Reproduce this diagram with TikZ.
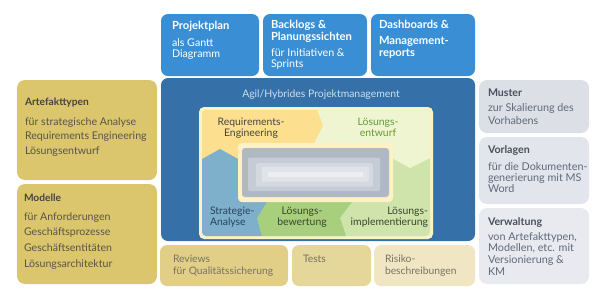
\documentclass[tikz,border=0pt]{standalone}
\usepackage{fontspec}
\setmainfont{Lato}
\definecolor{topblue}{RGB}{58,142,212}
\definecolor{mainblue}{RGB}{53,113,168}
\definecolor{titleblue}{RGB}{205,222,240}
\definecolor{olive}{RGB}{219,198,110}
\definecolor{revcol}{RGB}{225,207,135}
\definecolor{testcol}{RGB}{229,214,154}
\definecolor{riscol}{RGB}{240,230,196}
\definecolor{muscol}{RGB}{220,224,230}
\definecolor{vorcol}{RGB}{226,229,235}
\definecolor{vercol}{RGB}{232,234,239}
\definecolor{cream}{RGB}{253,241,197}
\definecolor{reqyel}{RGB}{253,224,143}
\definecolor{entgreen}{RGB}{238,245,208}
\definecolor{impgreen}{RGB}{207,228,170}
\definecolor{bewgreen}{RGB}{168,208,124}
\definecolor{strblue}{RGB}{126,176,204}
\definecolor{grayA}{RGB}{176,184,196}
\definecolor{grayB}{RGB}{198,204,213}
\definecolor{grayC}{RGB}{212,217,224}
\definecolor{grayD}{RGB}{224,228,233}
\definecolor{grayE}{RGB}{236,238,241}
\definecolor{darktxt}{RGB}{70,68,62}
\definecolor{olivetxt}{RGB}{88,84,70}
\definecolor{rhead}{RGB}{72,80,94}
\definecolor{rbody}{RGB}{96,106,122}
\definecolor{btxt}{RGB}{120,114,98}
\definecolor{greentxt}{RGB}{100,154,50}
\definecolor{strtxt}{RGB}{38,66,92}
\definecolor{bewtxt}{RGB}{58,68,48}
\newcommand\txtlines[6]{\foreach \mytext [count=\i from 0] in {#6}{\node[#5] (#1-\i) at (#2,{#3+\i*#4}) {\mytext};}}
\tikzset{
  txt/.style={inner sep=0pt, outer sep=0pt, anchor=base west},
  tophead/.style={txt, text=white, font=\fontsize{11.2}{12}\selectfont\bfseries},
  topbody/.style={txt, text=white, font=\fontsize{10.7}{12}\selectfont},
  lhead/.style={txt, text=darktxt, font=\fontsize{10.2}{12}\selectfont\bfseries},
  lbody/.style={txt, text=olivetxt, font=\fontsize{10.6}{12}\selectfont},
  rhd/.style={txt, text=rhead, font=\fontsize{10.6}{12}\selectfont\bfseries},
  rbd/.style={txt, text=rbody, font=\fontsize{10.8}{12}\selectfont},
  bhead/.style={txt, text=btxt, font=\fontsize{10.3}{12}\selectfont},
  intxt/.style={inner sep=0pt, outer sep=0pt, font=\fontsize{10.4}{11}\selectfont},
  boxr/.style={rounded corners=7pt},
}
\begin{document}
\begin{tikzpicture}[x=1pt,y=-1pt]
\useasboundingbox (0,0) rectangle (605,301);
% top boxes
\fill[topblue, boxr] (161,14) rectangle (259,76);
\fill[topblue, boxr] (263,14) rectangle (367,76);
\fill[topblue, boxr] (371,14) rectangle (475,76);
% main box
\fill[mainblue, boxr] (161,78) rectangle (475,241);
% left boxes
\fill[olive, rounded corners=8pt] (17,80) rectangle (157,180);
\fill[olive, rounded corners=8pt] (17,184) rectangle (157,284);
% right boxes
\fill[muscol, rounded corners=8pt] (479,80) rectangle (589,133);
\fill[vorcol, rounded corners=8pt] (479,137) rectangle (589,204);
\fill[vercol, rounded corners=8pt] (479,208) rectangle (589,284);
% bottom boxes
\fill[revcol, boxr] (160,245) rectangle (288,286);
\fill[testcol, boxr] (292,245) rectangle (371,286);
\fill[riscol, boxr] (374,245) rectangle (475,286);
% inner cream frame
\fill[cream, rounded corners=5pt] (199,107) rectangle (433,239);
\begin{scope}
\clip[rounded corners=4pt] (202,110) rectangle (430,236);
\fill[impgreen] (195,100) rectangle (440,245);
\fill[reqyel] (195,100) -- (314,100) -- (323,126) -- (313,145) -- (240,145) -- (240,160) -- (220,149) -- (195,163) -- cycle;
\fill[entgreen] (314,100) -- (440,100) -- (440,153) -- (410,168) -- (392,158) -- (392,145) -- (313,145) -- (323,126) -- cycle;
\fill[bewgreen] (352,202) -- (340,218) -- (349,245) -- (263,245) -- (257,218) -- (267,202) -- cycle;
\fill[strblue] (195,163) -- (220,149) -- (240,160) -- (240,202) -- (267,202) -- (257,218) -- (264,245) -- (195,245) -- cycle;
\end{scope}
% centre stack
\fill[cream, rounded corners=4pt] (238,143) rectangle (393,202);
\fill[grayA, rounded corners=3pt] (242,148) rectangle (389,197);
\fill[grayB, rounded corners=2pt] (248,157.5) rectangle (380,191);
\fill[grayC, rounded corners=1.5pt] (256,163) rectangle (373,186.5);
\fill[grayD, rounded corners=1pt] (262,167) rectangle (369,181.5);
\fill[grayE] (268,171.5) rectangle (363,177);
% top texts
\txtlines{pp}{172}{29.5}{0}{tophead}{Projektplan}
\txtlines{ppb}{172}{46.5}{11}{topbody}{als Gantt,Diagramm}
\txtlines{bl}{271}{28.5}{11.5}{tophead}{Backlogs \&,Planungssichten}
\txtlines{blb}{271}{56}{11.5}{topbody}{für Initiativen \&,Sprints}
\txtlines{db}{379}{28.5}{15.8}{tophead}{Dashboards \&,Management-}
\txtlines{dbb}{379}{56}{0}{tophead}{reports}
% main title
\node[intxt, anchor=base, text=titleblue] (title) at (321,97) {Agil/Hybrides Projektmanagement};
% inner texts
\txtlines{req}{251}{125.5}{10.5}{intxt, anchor=base, text=darktxt}{Requirements-,Engineering}
\txtlines{ent}{378}{125.5}{10.5}{intxt, anchor=base, text=greentxt}{Lösungs-,entwurf}
\txtlines{str}{210}{214.3}{10.7}{intxt, anchor=base west, text=strtxt}{Strategie-,Analyse}
\txtlines{bew}{302}{214.3}{10.7}{intxt, anchor=base, text=bewtxt}{Lösungs-,bewertung}
\txtlines{imp}{428}{214.3}{10.7}{intxt, anchor=base east, text=bewtxt}{Lösungs-,implementierung}
% left texts
\txtlines{art}{25}{105.5}{0}{lhead}{Artefakttypen}
\txtlines{artb}{25}{125}{14.7}{lbody}{für strategische Analyse,Requirements Engineering,Lösungsentwurf}
\txtlines{mod}{24}{201.7}{0}{lhead}{Modelle}
\txtlines{modb}{24}{220}{15.9}{lbody}{für Anforderungen,Geschäftsprozesse,Geschäftsentitäten,Lösungsarchitektur}
% right texts
\txtlines{mus}{488}{96}{0}{rhd}{Muster}
\txtlines{musb}{488}{111.7}{12.3}{rbd}{zur Skalierung des,Vorhabens}
\txtlines{vor}{488}{153.3}{0}{rhd}{Vorlagen}
\txtlines{vorb}{488}{170}{11.4}{rbd}{für die Dokumenten-,generierung mit MS,Word}
\txtlines{ver}{488}{225}{0}{rhd}{Verwaltung}
\txtlines{verb}{488}{240}{11.9}{rbd}{{von Artefakttypen,},{Modellen, etc. mit},Versionierung \&,KM}
% bottom texts
\txtlines{rev}{173}{262.3}{12}{bhead}{Reviews,für Qualitätssicherung}
\txtlines{tst}{303}{262.3}{0}{bhead}{Tests}
\txtlines{ris}{385}{262.3}{12}{bhead}{Risiko-,beschreibungen}
\end{tikzpicture}
\end{document}
